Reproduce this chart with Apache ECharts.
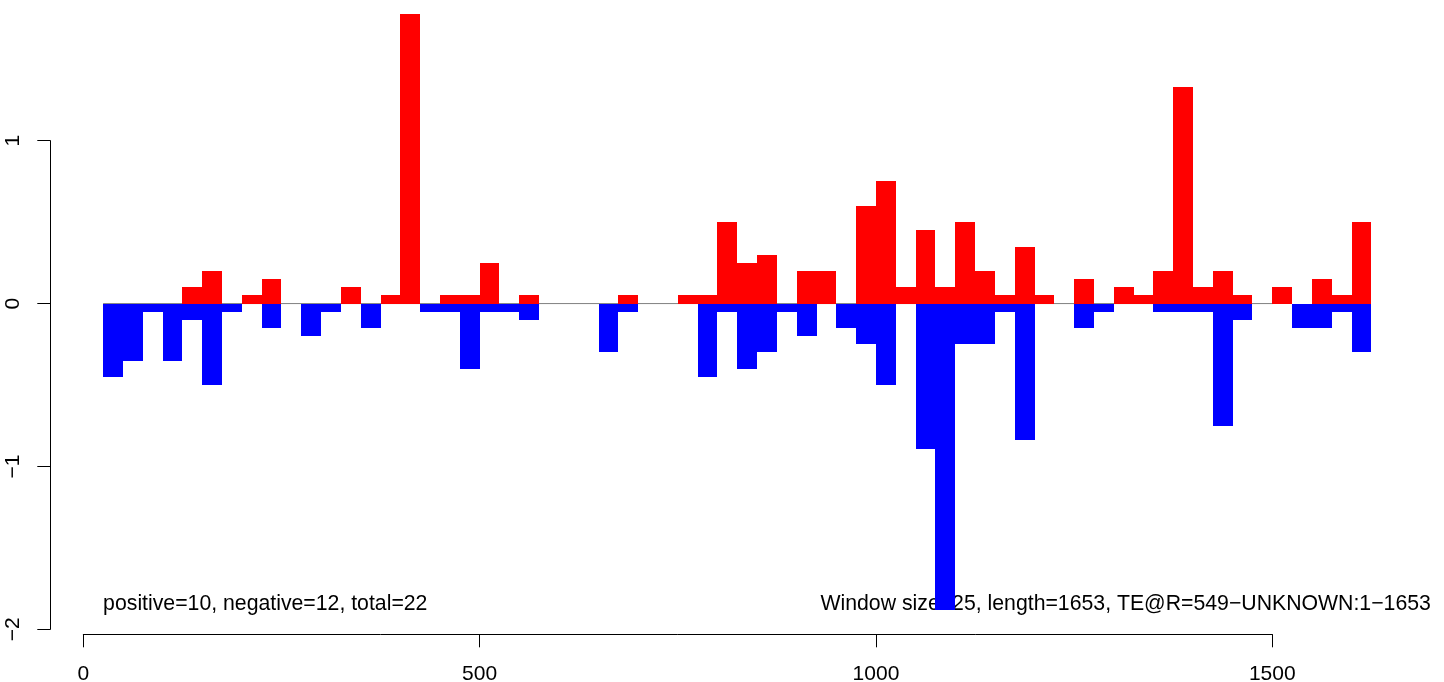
<!DOCTYPE html>
<html>
<head>
<meta charset="utf-8">
<script src="https://cdn.jsdelivr.net/npm/echarts@6/dist/echarts.min.js"></script>
<style>
html,body{margin:0;padding:0;background:#fff;}
#chart{width:1444px;height:682px;}
</style>
</head>
<body>
<div id="chart"></div>
<script>
// Window size and window start positions (bp)
const WINDOW = 25;
const windowStarts = [25,50,75,100,125,150,175,200,225,250,275,300,325,350,375,400,425,450,475,500,525,550,575,600,625,650,675,700,725,750,775,800,825,850,875,900,925,950,975,1000,1025,1050,1075,1100,1125,1150,1175,1200,1225,1250,1275,1300,1325,1350,1375,1400,1425,1450,1475,1500,1525,1550,1575,1600];
// Positive (red) values per window
const positiveValues = [0,0,0,0,0.1,0.2,0,0.05,0.15,0, 0,0,0.1,0,0.05,1.78,0,0.05,0.05,0.25, 0,0.05,0,0,0,0,0.05,0,0,0.05, 0.05,0.5,0.25,0.3,0,0.2,0.2,0,0.6,0.75, 0.1,0.45,0.1,0.5,0.2,0.05,0.35,0.05,0,0.15, 0,0.1,0.05,0.2,1.33,0.1,0.2,0.05,0,0.1, 0,0.15,0.05,0.5];
// Negative (blue) values per window
const negativeValues = [-0.45,-0.35,-0.05,-0.35,-0.1,-0.5,-0.05,0,-0.15,0, -0.2,-0.05,0,-0.15,0,0,-0.05,-0.05,-0.4,-0.05, -0.05,-0.1,0,0,0,-0.3,-0.05,0,0,0, -0.45,-0.05,-0.4,-0.3,-0.05,-0.2,0,-0.15,-0.25,-0.5, 0,-0.89,-1.88,-0.25,-0.25,-0.05,-0.84,0,0,-0.15, -0.05,0,0,-0.05,-0.05,-0.05,-0.75,-0.1,0,0, -0.15,-0.15,-0.05,-0.3];
// Zero reference line extent
const zeroLine = [[25,0],[1700,0]];
// Axis ticks
const xTicks = {min:0, max:1500, interval:500};
const yTicks = {min:-2, max:1, interval:1};
// Annotation texts
const leftNote = 'positive=10, negative=12, total=22';
const rightNote = 'Window size=25, length=1653, TE@R=549\u2212UNKNOWN:1\u22121653';
const noteY = -1.845;

const FONT = "'Liberation Sans', Arial, Helvetica, sans-serif";
const posData = windowStarts.map((s,i)=>[s, positiveValues[i]]);
const negData = windowStarts.map((s,i)=>[s, negativeValues[i]]);

function renderBar(color){
  return function(params, api){
    const x0 = api.value(0), v = api.value(1);
    if (!v) return null;
    const p0 = api.coord([x0, 0]);
    const p1 = api.coord([x0 + WINDOW, v]);
    const xa = Math.round(p0[0]), xb = Math.round(p1[0]);
    const ya = Math.round(Math.min(p0[1],p1[1])), yb = Math.round(Math.max(p0[1],p1[1]));
    return {
      type:'rect',
      shape:{x:xa, y:ya, width:xb-xa, height:yb-ya},
      style:{fill:color}
    };
  };
}

const chart = echarts.init(document.getElementById('chart'), null, {renderer:'canvas'});
chart.setOption({
  animation:false,
  backgroundColor:'#ffffff',
  grid:{left:83.3, right:171.7, top:140.7, bottom:52.7, containLabel:false, outerBoundsMode:'none'},
  xAxis:{
    type:'value', min:xTicks.min, max:xTicks.max, interval:xTicks.interval,
    position:'bottom', offset:5,
    axisLine:{show:true, onZero:false, lineStyle:{color:'#000', width:1}},
    axisTick:{show:true, inside:false, length:13, lineStyle:{color:'#000', width:1}},
    axisLabel:{color:'#000', fontSize:21, fontFamily:FONT, margin:29, formatter:(v)=>String(v)},
    splitLine:{show:false}
  },
  yAxis:{
    type:'value', min:yTicks.min, max:yTicks.max, interval:yTicks.interval,
    position:'left', offset:33,
    axisLine:{show:true, onZero:false, lineStyle:{color:'#000', width:1}},
    axisTick:{show:true, inside:false, length:13, lineStyle:{color:'#000', width:1}},
    axisLabel:{color:'#000', fontSize:21, fontFamily:FONT, margin:27, rotate:90,
      formatter:(v)=>String(v).replace('-', '\u2212')},
    splitLine:{show:false}
  },
  series:[
    {type:'line', data:zeroLine, clip:false, symbol:'none', silent:true, z:1,
     lineStyle:{color:'#808080', width:1}},
    {type:'custom', data:posData, clip:false, z:3, renderItem:renderBar('#ff0000'), silent:true},
    {type:'custom', data:negData, clip:false, z:3, renderItem:renderBar('#0000ff'), silent:true}
  ]
});

const pL = chart.convertToPixel({gridIndex:0}, [25, noteY]);
const pR = chart.convertToPixel({gridIndex:0}, [1700, noteY]);
chart.setOption({
  graphic:{elements:[
    {type:'text', z:0, x:pL[0], y:pL[1], style:{text:leftNote, fill:'#000', font:'21.25px '+FONT, textAlign:'left', textVerticalAlign:'middle'}},
    {type:'text', z:0, x:pR[0], y:pR[1], style:{text:rightNote, fill:'#000', font:'21.25px '+FONT, textAlign:'right', textVerticalAlign:'middle'}}
  ]}
});
</script>
</body>
</html>
